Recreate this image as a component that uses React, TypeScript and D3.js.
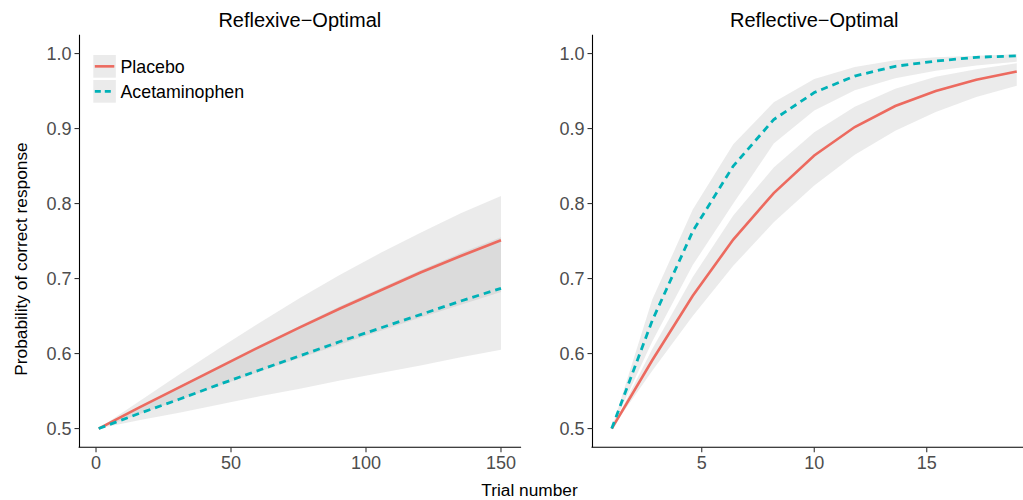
import React from "react";
import * as d3 from "d3";

// ---------- data ----------
const panelTitles = ["Reflexive\u2212Optimal", "Reflective\u2212Optimal"];
const seriesNames = ["Placebo", "Acetaminophen"];

const xLeft = [1, 15.9, 30.8, 45.7, 60.6, 75.5, 90.4, 105.3, 120.2, 135.1, 150];
const placeboLeft = [0.5, 0.528, 0.555, 0.582, 0.609, 0.635, 0.66, 0.684, 0.708, 0.73, 0.751];
const placeboLeftHi = [0.5, 0.536, 0.572, 0.607, 0.641, 0.674, 0.705, 0.734, 0.761, 0.787, 0.81];
const placeboLeftLo = [0.5, 0.519, 0.538, 0.557, 0.576, 0.594, 0.612, 0.63, 0.648, 0.665, 0.682];
const acetLeft = [0.5, 0.52, 0.539, 0.559, 0.578, 0.597, 0.616, 0.634, 0.652, 0.67, 0.687];
const acetLeftHi = [0.5, 0.528, 0.556, 0.584, 0.611, 0.637, 0.663, 0.687, 0.711, 0.734, 0.755];
const acetLeftLo = [0.5, 0.511, 0.521, 0.532, 0.543, 0.553, 0.564, 0.574, 0.584, 0.595, 0.605];

const xRight = [1, 2.8, 4.6, 6.4, 8.2, 10, 11.8, 13.6, 15.4, 17.2, 19];
const placeboRight = [0.5, 0.591, 0.677, 0.752, 0.814, 0.864, 0.902, 0.93, 0.95, 0.965, 0.976];
const placeboRightHi = [0.5, 0.606, 0.702, 0.784, 0.848, 0.895, 0.929, 0.953, 0.969, 0.979, 0.987];
const placeboRightLo = [0.5, 0.577, 0.65, 0.717, 0.775, 0.824, 0.865, 0.897, 0.922, 0.942, 0.957];
const acetRight = [0.5, 0.644, 0.763, 0.85, 0.912, 0.948, 0.97, 0.983, 0.99, 0.995, 0.997];
const acetRightHi = [0.5, 0.672, 0.792, 0.879, 0.935, 0.966, 0.982, 0.991, 0.995, 0.997, 0.999];
const acetRightLo = [0.5, 0.616, 0.718, 0.8, 0.88, 0.924, 0.951, 0.967, 0.977, 0.984, 0.989];

const yTicks = [0.5, 0.6, 0.7, 0.8, 0.9, 1.0];
const xTicksLeft = [0, 50, 100, 150];
const xTicksRight = [5, 10, 15];

const xLabel = "Trial number";
const yLabel = "Probability of correct response";

// ---------- style ----------
const RED = "#EC6A5F";
const TEAL = "#00B1B7";
const FONT = "'Liberation Sans', Arial, Helvetica, sans-serif";
const TICK_COLOR = "#4D4D4D";

const yScale = d3.scaleLinear().domain([0.475, 1.025]).range([447.3, 34.8]);

type Panel = {
  title: string;
  xs: number[];
  x: d3.ScaleLinear<number, number>;
  ticks: number[];
  placebo: number[];
  placeboHi: number[];
  placeboLo: number[];
  acet: number[];
  acetHi: number[];
  acetLo: number[];
};

const panels: Panel[] = [
  {
    title: panelTitles[0],
    xs: xLeft,
    x: d3.scaleLinear().domain([-6.45, 157.45]).range([78.6, 521.1]),
    ticks: xTicksLeft,
    placebo: placeboLeft,
    placeboHi: placeboLeftHi,
    placeboLo: placeboLeftLo,
    acet: acetLeft,
    acetHi: acetLeftHi,
    acetLo: acetLeftLo,
  },
  {
    title: panelTitles[1],
    xs: xRight,
    x: d3.scaleLinear().domain([0.1, 19.9]).range([591.5, 1037]),
    ticks: xTicksRight,
    placebo: placeboRight,
    placeboHi: placeboRightHi,
    placeboLo: placeboRightLo,
    acet: acetRight,
    acetHi: acetRightHi,
    acetLo: acetRightLo,
  },
];

function PanelView({ p }: { p: Panel }) {
  const idx = p.xs.map((_, i) => i);
  const area = (hi: number[], lo: number[]) =>
    d3
      .area<number>()
      .x((i) => p.x(p.xs[i]))
      .y0((i) => yScale(lo[i]))
      .y1((i) => yScale(hi[i]))(idx) || "";
  const line = (v: number[]) =>
    d3
      .line<number>()
      .x((i) => p.x(p.xs[i]))
      .y((i) => yScale(v[i]))(idx) || "";
  const [x0, x1] = p.x.range();
  const [yb, yt] = yScale.range();
  const xAxisLeft = Math.round(x0) + 0.5;
  return (
    <g>
      <path d={area(p.placeboHi, p.placeboLo)} fill="#999999" fillOpacity={0.2} />
      <path d={area(p.acetHi, p.acetLo)} fill="#999999" fillOpacity={0.2} />
      <path d={line(p.placebo)} fill="none" stroke={RED} strokeWidth={2.6} />
      <path
        d={line(p.acet)}
        fill="none"
        stroke={TEAL}
        strokeWidth={2.8}
        strokeDasharray="7,5"
      />
      {/* axes */}
      <line x1={xAxisLeft} x2={xAxisLeft} y1={yt} y2={yb} stroke="#000" strokeWidth={1.1} />
      <line x1={x0} x2={x1} y1={yb} y2={yb} stroke="#000" strokeWidth={1.1} />
      {yTicks.map((t) => (
        <g key={"y" + t}>
          <line x1={xAxisLeft - 5} x2={xAxisLeft} y1={yScale(t)} y2={yScale(t)} stroke="#333" strokeWidth={1.1} />
          <text
            x={xAxisLeft - 8}
            y={yScale(t)}
            dy="0.36em"
            textAnchor="end"
            fontSize={18}
            fill={TICK_COLOR}
            fontFamily={FONT}
          >
            {t.toFixed(1)}
          </text>
        </g>
      ))}
      {p.ticks.map((t) => (
        <g key={"x" + t}>
          <line x1={p.x(t)} x2={p.x(t)} y1={yb} y2={yb + 5} stroke="#333" strokeWidth={1.1} />
          <text
            x={p.x(t)}
            y={yb + 21.5}
            textAnchor="middle"
            fontSize={18}
            fill={TICK_COLOR}
            fontFamily={FONT}
          >
            {t}
          </text>
        </g>
      ))}
      <text
        x={(x0 + x1) / 2}
        y={26.7}
        textAnchor="middle"
        fontSize={20}
        fill="#000"
        fontFamily={FONT}
      >
        {p.title}
      </text>
    </g>
  );
}

function Legend() {
  const keyX = 93.3;
  const keyW = 22.5;
  const keyH = 22.7;
  const rows = [55, 80];
  return (
    <g>
      {seriesNames.map((name, i) => (
        <g key={name}>
          <rect x={keyX} y={rows[i]} width={keyW} height={keyH} fill="#999999" fillOpacity={0.2} />
          <line
            x1={keyX + 1.5}
            x2={keyX + keyW - 1.5}
            y1={rows[i] + keyH / 2}
            y2={rows[i] + keyH / 2}
            stroke={i === 0 ? RED : TEAL}
            strokeWidth={i === 0 ? 2.6 : 2.8}
            strokeDasharray={i === 0 ? undefined : "6,4"}
          />
          <text
            x={120.5}
            y={rows[i] + keyH / 2}
            dy="0.36em"
            fontSize={17.8}
            fill="#000"
            fontFamily={FONT}
          >
            {name}
          </text>
        </g>
      ))}
    </g>
  );
}

export default function App() {
  return (
    <svg
      width={1023}
      height={500}
      style={{ position: "absolute", left: 0, top: 0, background: "#fff" }}
    >
      <rect x={0} y={0} width={1023} height={500} fill="#fff" />
      {panels.map((p) => (
        <PanelView key={p.title} p={p} />
      ))}
      <Legend />
      <text
        x={529.5}
        y={496}
        textAnchor="middle"
        fontSize={17.3}
        fill="#000"
        fontFamily={FONT}
      >
        {xLabel}
      </text>
      <text
        transform="translate(27,259) rotate(-90)"
        textAnchor="middle"
        fontSize={17.3}
        fill="#000"
        fontFamily={FONT}
      >
        {yLabel}
      </text>
    </svg>
  );
}
